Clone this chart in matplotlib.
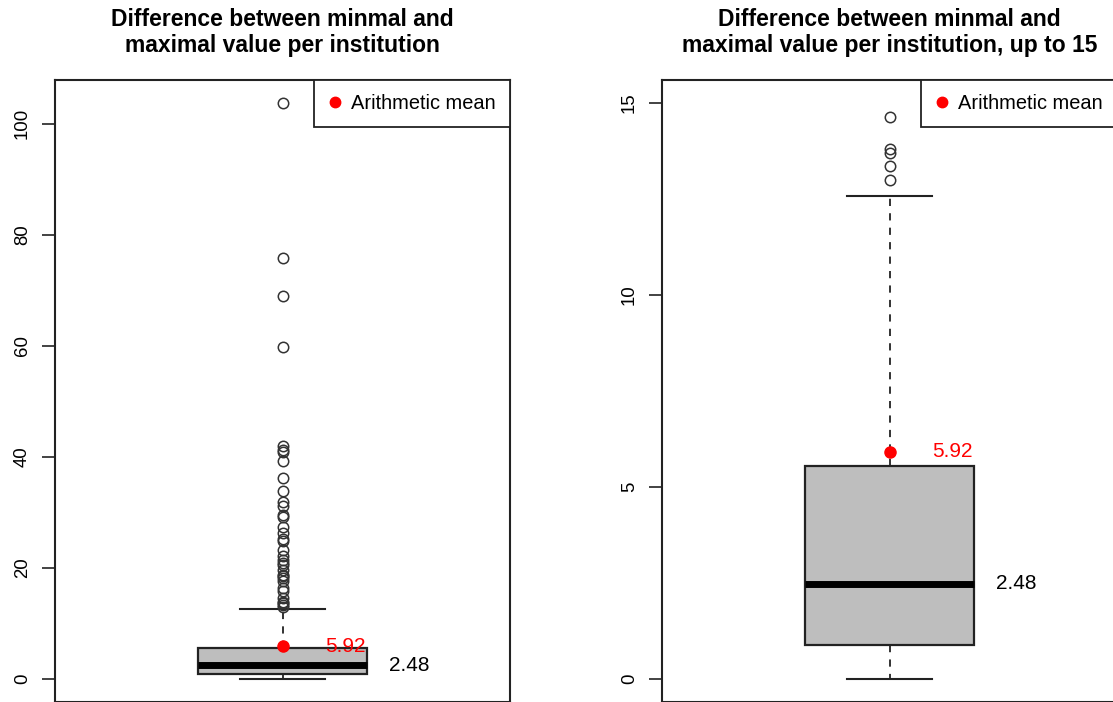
import matplotlib
matplotlib.use("Agg")
import matplotlib.pyplot as plt
from matplotlib.lines import Line2D

plt.rcParams['font.family'] = ['Liberation Sans', 'DejaVu Sans']

# box statistics
q1 = 0.88
median = 2.48
q3 = 5.55
whis_lo = 0.0
whis_hi = 12.57
mean = 5.92
outliers = [103.7, 75.8, 69.0, 59.8, 42.0, 41.3, 40.8, 39.3, 36.2, 33.8,
            31.9, 31.1, 29.6, 29.1, 27.3, 26.2, 25.2, 24.8, 23.3, 22.1,
            21.4, 20.9, 20.5, 19.7, 18.8, 18.5, 18.2, 17.6, 16.4, 15.9,
            14.64, 13.8, 13.69, 13.36, 13.0]

titles = ["Difference between minmal and\nmaximal value per institution",
          "Difference between minmal and\nmaximal value per institution, up to 15"]
ylims = [(-4.15, 107.85), (-0.6, 15.6)]
yticks = [[0, 20, 40, 60, 80, 100], [0, 5, 10, 15]]
legend_label = "Arithmetic mean"

stats = [dict(med=median, q1=q1, q3=q3, whislo=whis_lo, whishi=whis_hi,
              fliers=outliers, mean=mean)]

fig = plt.figure(figsize=(11.13, 7.02), dpi=100)
lefts = [55 / 1113, 662 / 1113]

for i in range(2):
    ax = fig.add_axes([lefts[i], 0.0, 455 / 1113, 622 / 702])
    ax.bxp(stats, positions=[1], widths=0.4, capwidths=0.2, patch_artist=True,
           showmeans=False,
           boxprops=dict(facecolor='#BEBEBE', edgecolor='#222222', linewidth=1.6),
           medianprops=dict(color='black', linewidth=5, solid_capstyle='butt'),
           whiskerprops=dict(color='#222222', linewidth=1.3, linestyle=(0, (4, 4))),
           capprops=dict(color='#222222', linewidth=1.5),
           flierprops=dict(marker='o', markerfacecolor='none',
                           markeredgecolor='#333333', markersize=7.5,
                           markeredgewidth=1.1))
    ax.plot([1], [mean], 'o', color='red', markersize=8, zorder=5)
    ax.text(1.15, mean, "%.2f" % mean, color='red', fontsize=15,
            ha='center', va='center')
    ax.text(1.3, median, "%.2f" % median, color='black', fontsize=15,
            ha='center', va='center')

    ax.set_xlim(0.46, 1.54)
    ax.set_ylim(*ylims[i])
    ax.set_xticks([])
    ax.set_yticks(yticks[i])
    ax.set_yticklabels([str(t) for t in yticks[i]], rotation=90, va='center')
    ax.tick_params(axis='y', length=9.4, width=1.2, labelsize=13.4, pad=8,
                   color='#222222')
    for s in ax.spines.values():
        s.set_linewidth(1.5)
        s.set_color('#222222')

    handle = Line2D([], [], marker='o', color='red', linestyle='none',
                    markersize=7.5)
    leg = ax.legend([handle], [legend_label], loc='upper right', fontsize=14.4,
                    fancybox=False, borderaxespad=0, handlelength=0.7,
                    handletextpad=0.45, borderpad=0.7, framealpha=1)
    leg.get_frame().set_edgecolor('#222222')
    leg.get_frame().set_linewidth(1.3)

    ax.set_title(titles[i], fontsize=16.5, fontweight='bold', pad=20,
                 linespacing=1.2)

fig.savefig("out.png", dpi=100)
